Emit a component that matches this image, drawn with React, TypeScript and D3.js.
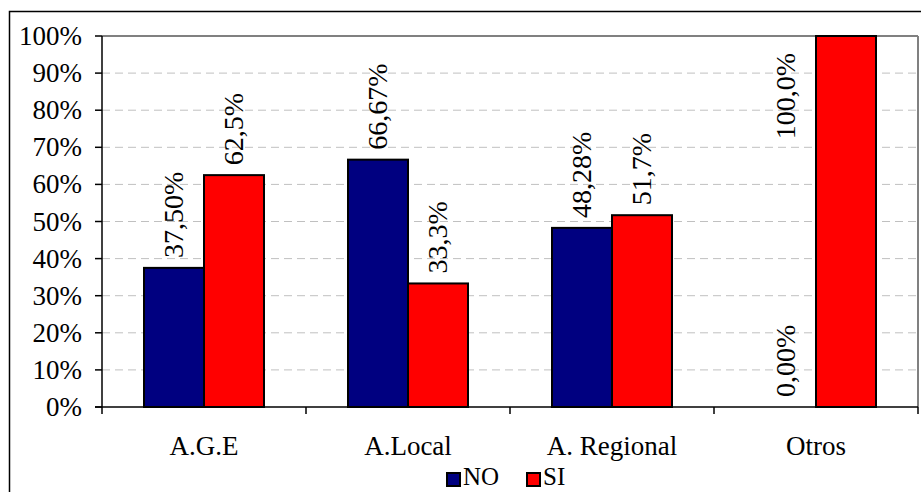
import React from "react";
import * as d3 from "d3";

const categories = ["A.G.E", "A.Local", "A. Regional", "Otros"];
const seriesNames = ["NO", "SI"];
const noValues = [0.375, 0.6667, 0.4828, 0.0];
const siValues = [0.625, 0.333, 0.517, 1.0];
const noLabels = ["37,50%", "66,67%", "48,28%", "0,00%"];
const siLabels = ["62,5%", "33,3%", "51,7%", "100,0%"];
const yTicks = [0, 0.1, 0.2, 0.3, 0.4, 0.5, 0.6, 0.7, 0.8, 0.9, 1.0];
const colors = ["#000080", "#ff0000"];

const W = 921;
const H = 492;
const plot = { left: 102, right: 918, top: 36, bottom: 407 };
const FONT = '"Liberation Serif", "DejaVu Serif", serif';

export default function App() {
  const x = d3.scaleBand<string>().domain(categories).range([plot.left, plot.right]).padding(0);
  const xs = d3
    .scaleBand<string>()
    .domain(seriesNames)
    .range([0, x.bandwidth()])
    .paddingInner(0)
    .paddingOuter(0.7);
  const y = d3.scaleLinear().domain([0, 1]).range([plot.bottom, plot.top]);
  const values = [noValues, siValues];
  const labels = [noLabels, siLabels];
  const labelFont = 28;
  const boundaries = [...categories.map((c) => x(c) as number), plot.right];
  const txt = (size: number) => ({ fontFamily: FONT, fontSize: size + "px" });

  return (
    <div style={{ position: "absolute", left: 0, top: 0 }}>
      <svg width={W} height={H} style={{ display: "block", background: "#fff", fontFamily: FONT }}>
        <rect x={0} y={0} width={W} height={H} fill="#fff" />
        <rect x={9.5} y={11.5} width={W + 20} height={H + 20} fill="none" stroke="#000" strokeWidth={1.5} />
        {yTicks.slice(1, -1).map((t) => (
          <line
            key={"g" + t}
            x1={plot.left}
            x2={plot.right}
            y1={y(t)}
            y2={y(t)}
            stroke="#c0c0c0"
            strokeWidth={1}
            strokeDasharray="8,5"
          />
        ))}
        <line x1={plot.left} x2={plot.right} y1={plot.top} y2={plot.top} stroke="#808080" strokeWidth={2} />
        <line x1={plot.right} x2={plot.right} y1={plot.top} y2={plot.bottom} stroke="#808080" strokeWidth={2} />
        {values.map((vals, si) =>
          vals.map((v, ci) => {
            const bx = (x(categories[ci]) as number) + (xs(seriesNames[si]) as number);
            const by = y(v);
            const h = plot.bottom - by;
            if (h <= 0) return null;
            return (
              <rect
                key={`b${si}-${ci}`}
                x={bx}
                y={by}
                width={xs.bandwidth()}
                height={h}
                fill={colors[si]}
                stroke="#000"
                strokeWidth={2}
              />
            );
          })
        )}
        <line x1={plot.left} x2={plot.left} y1={plot.top} y2={plot.bottom} stroke="#000" strokeWidth={1.5} />
        <line x1={plot.left - 7} x2={plot.right} y1={plot.bottom} y2={plot.bottom} stroke="#000" strokeWidth={1.5} />
        {yTicks.map((t) => (
          <g key={"t" + t}>
            <line x1={plot.left - 7} x2={plot.left} y1={y(t)} y2={y(t)} stroke="#000" strokeWidth={1.5} />
            <text x={82} y={y(t) + 9} textAnchor="end" style={txt(27)} fill="#000">
              {Math.round(t * 100) + "%"}
            </text>
          </g>
        ))}
        {boundaries.map((bx, i) => (
          <line key={"xt" + i} x1={bx} x2={bx} y1={plot.bottom} y2={plot.bottom + 7} stroke="#000" strokeWidth={1.5} />
        ))}
        {categories.map((c) => (
          <text
            key={"c" + c}
            x={(x(c) as number) + x.bandwidth() / 2}
            y={455}
            textAnchor="middle"
            style={txt(27)}
            fill="#000"
          >
            {c}
          </text>
        ))}
        {values.map((vals, si) =>
          vals.map((v, ci) => {
            const text = labels[si][ci];
            const estLen = text.length * 0.52 * labelFont;
            const by = y(v);
            const fits = by - 10 - estLen > plot.top;
            const slot = fits ? seriesNames[si] : seriesNames[1 - si];
            const cx = (x(categories[ci]) as number) + (xs(slot) as number) + xs.bandwidth() / 2;
            const bx = cx + 9;
            const ly = fits ? by - 10 : plot.top + 17;
            return (
              <text
                key={`l${si}-${ci}`}
                transform={`translate(${bx},${ly}) rotate(-90)`}
                textAnchor={fits ? "start" : "end"}
                style={txt(labelFont)}
                fill="#000"
              >
                {text}
              </text>
            );
          })
        )}
        {seriesNames.map((s, i) => {
          const lx = i === 0 ? 447 : 527;
          return (
            <g key={"lg" + s}>
              <rect x={lx} y={473} width={13} height={13} fill={colors[i]} stroke="#000" strokeWidth={2} />
              <text x={lx + 16} y={485} style={txt(25)} fill="#000">
                {s}
              </text>
            </g>
          );
        })}
      </svg>
    </div>
  );
}
